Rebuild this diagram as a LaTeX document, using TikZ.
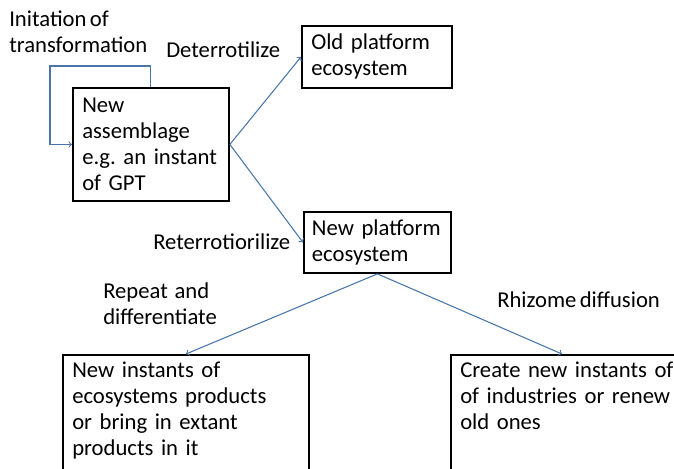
\documentclass[tikz,border=0pt]{standalone}
\usepackage{fontspec}
\setmainfont{Carlito}[WordSpace=0.65]
\usetikzlibrary{arrows, positioning, math, calc}
\definecolor{linkBlue}{RGB}{74,118,170}

\begin{document}
\frenchspacing
\begin{tikzpicture}[
				x=0.75pt,
				y=-0.75pt,
				font=\fontsize{17pt}{19.5pt}\selectfont,
				>=to
			]
			\tikzmath{
				\boxLine     		 = 1.4;   %box border width (pt)
			}
			\tikzstyle{Box} = [
				anchor=north west,
				draw=black,
				line width=\boxLine pt,
				align=left,
				inner xsep=7pt,
				inner ysep=5pt,
				execute at begin node={\hyphenpenalty=10000}
			]
			\tikzstyle{Label} = [
				anchor=west,
				align=left,
				inner sep=0pt
			]
			\tikzstyle{Link} = [
				->,
				draw=linkBlue,
				line width=0.8pt
			]
			\useasboundingbox (0,0) rectangle (674,468);
			\clip (0,0) rectangle (674,468);

			% boxes (widths are box width minus the side padding)
			\node (asm) [Box, text width=103pt, minimum height=84.75pt] at (72,87)
				{New\\assemblage\\e.g. an instant\\of GPT};
			\node (oldEco) [Box, text width=98.5pt, minimum height=46.5pt] at (301,25)
				{Old platform\\ecosystem};
			\node (newEco) [Box, inner xsep=6pt, text width=98.25pt, minimum height=45.75pt] at (303,211)
				{New~platform\\ecosystem};
			\node (instants) [Box, text width=170.5pt] at (62,354)
				{New instants of\\ecosystems products\\or bring in extant\\products in it\\[10pt]\strut};
			\node (industries) [Box, text width=166pt] at (450,354)
				{Create new instants of\\of industries or renew\\old ones\\[10pt]\strut};

			% labels
			\node (initLbl) [Label] at (9,31.5) {Initation of\\transformation};
			\node (deterLbl) [Label] at (166,50) {Deterrotilize};
			\node (reterLbl) [Label] at (153,242) {Reterrotiorilize};
			\node (repeatLbl) [Label] at (103,303.5) {Repeat~ and\\differentiate};
			\node (rhizLbl) [Label] at (497,300) {Rhizome diffusion};

			% connectors
			\coordinate (loopTop) at (50,66);
			\draw [Link] (asm.north) |- (loopTop) |- (asm.west);
			\draw [Link] (asm.east) -- (oldEco.west);
			\draw [Link] (asm.east) -- (newEco.west);
			\draw [Link] (newEco.south) -- (instants.north);
			\draw [Link] (newEco.south) -- ($(industries.north west)+(112,0)$);
		\end{tikzpicture}
\end{document}
